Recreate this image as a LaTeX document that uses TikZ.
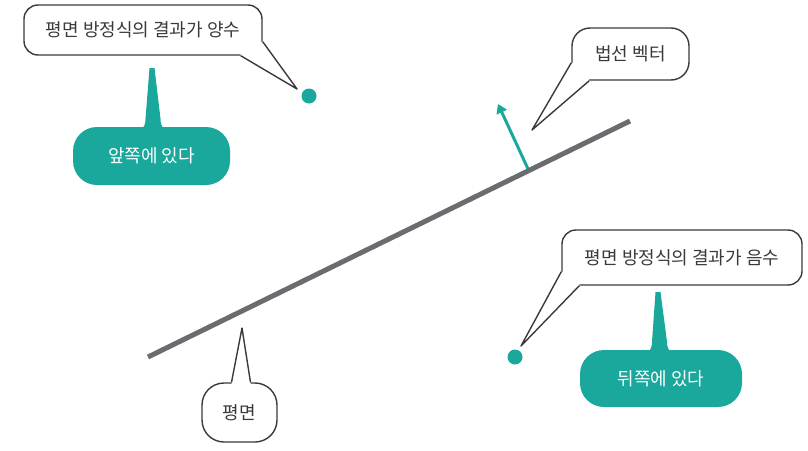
\documentclass[tikz,border=0pt]{standalone}
\usepackage{fontspec}
\setmainfont{Noto Sans CJK KR}
\usepackage{xcolor}
\usetikzlibrary{arrows.meta, calc, positioning}

\definecolor{tealmark}{HTML}{1AA89C}
\definecolor{planegray}{HTML}{6B6B70}
\definecolor{inkgray}{HTML}{3A3A3A}

\tikzset{
  wbox/.style={draw=inkgray, line width=1.4pt, fill=white, rounded corners=14pt,
    text=inkgray, font=\fontsize{18}{21}\selectfont, inner sep=0pt},
  tbox/.style={fill=tealmark, rounded corners=24pt, text=white,
    font=\fontsize{18}{21}\selectfont, inner sep=0pt},
  tailline/.style={draw=inkgray, line width=1.4pt, line join=round},
  pointdot/.style={circle, fill=tealmark, inner sep=0pt, minimum size=15pt},
  planeline/.style={draw=planegray, line width=5pt},
  normarrow/.style={draw=tealmark, line width=3pt, -{Triangle[length=9pt,width=11pt]}}
}

\begin{document}
\begin{tikzpicture}[x=1pt, y=-1pt]
  \useasboundingbox (0,0) rectangle (808,450);

  % 평면과 법선 벡터
  \coordinate (planeL) at (148,357);
  \coordinate (planeR) at (630,121);
  \coordinate (normbase) at ($(planeL)!0.79!(planeR)$);
  \coordinate (normtip) at (498,104);
  \draw[normarrow] (normbase) -- (normtip);
  \draw[planeline] (planeL) -- (planeR);

  % 점
  \node[pointdot] (plusdot) at (309,96) {};
  \node[pointdot] (minusdot) at (515,357) {};

  % 양수 말풍선
  \node[wbox, minimum width=238pt, minimum height=50pt] (plusbox) at (143,30) {평면 방정식의 결과가 양수};
  \coordinate (plustip) at (297,89);
  \coordinate (plusL) at ($(plusbox.south east)+(-22,0)$);
  \coordinate (plusR) at ($(plusbox.south east)+(0,-14)$);
  \fill[white] ($(plusL)+(0,-4)$) -- (plusL) -- (plustip) -- (plusR) -- ($(plusR)+(-4,0)$) -- cycle;
  \draw[tailline] (plusL) -- (plustip) -- (plusR);

  % 앞쪽
  \node[tbox, minimum width=157pt, minimum height=58pt] (frontbox) at (151.5,156) {앞쪽에 있다};
  \coordinate (fronttip) at (152,68);
  \fill[tealmark] ($(frontbox.north)+(-11,3)$) .. controls +(4,-2) and +(0,4) .. ($(frontbox.north)+(-6,-8)$)
    -- ($(fronttip)+(-2.5,0)$) -- ($(fronttip)+(2.5,0)$) -- ($(frontbox.north)+(9,-8)$)
    .. controls +(0,4) and +(-4,-2) .. ($(frontbox.north)+(14,3)$) -- cycle;

  % 법선 벡터 말풍선
  \node[wbox, rounded corners=18pt, minimum width=117pt, minimum height=52pt] (normbox) at (630.5,54) {법선 벡터};
  \coordinate (normpt) at (532,130);
  \coordinate (normL) at ($(normbox.south west)+(0,-18)$);
  \coordinate (normR) at ($(normbox.south west)+(18,0)$);
  \fill[white] ($(normL)+(4,0)$) -- (normL) -- (normpt) -- (normR) -- ($(normR)+(0,-4)$) -- cycle;
  \draw[tailline] (normL) -- (normpt) -- (normR);

  % 음수 말풍선
  \node[wbox, minimum width=240pt, minimum height=55pt] (minusbox) at (682,257.5) {평면 방정식의 결과가 음수};
  \coordinate (minustip) at (521,346);
  \coordinate (minusL) at ($(minusbox.south west)+(0,-14)$);
  \coordinate (minusR) at ($(minusbox.south west)+(18,0)$);
  \fill[white] ($(minusL)+(4,0)$) -- (minusL) -- (minustip) -- (minusR) -- ($(minusR)+(0,-4)$) -- cycle;
  \draw[tailline] (minusL) -- (minustip) -- (minusR);

  % 뒤쪽
  \node[tbox, minimum width=162pt, minimum height=57pt] (backbox) at (661,378.5) {뒤쪽에 있다};
  \coordinate (backtip) at (658,292);
  \fill[tealmark] ($(backbox.north)+(-14,3)$) .. controls +(4,-2) and +(0,4) .. ($(backbox.north)+(-9,-8)$)
    -- ($(backtip)+(-2.5,0)$) -- ($(backtip)+(2.5,0)$) -- ($(backbox.north)+(6,-8)$)
    .. controls +(0,4) and +(-4,-2) .. ($(backbox.north)+(11,3)$) -- cycle;

  % 평면 말풍선
  \node[wbox, rounded corners=22pt, minimum width=75pt, minimum height=59pt] (planebox) at (239.5,412.5) {평면};
  \coordinate (planetip) at (242,328);
  \coordinate (planeBL) at ($(planebox.north)+(-8,0)$);
  \coordinate (planeBR) at ($(planebox.north)+(11,0)$);
  \fill[white] ($(planeBL)+(0,4)$) -- (planeBL) -- (planetip) -- (planeBR) -- ($(planeBR)+(0,4)$) -- cycle;
  \draw[tailline] (planeBL) -- (planetip) -- (planeBR);
\end{tikzpicture}
\end{document}
